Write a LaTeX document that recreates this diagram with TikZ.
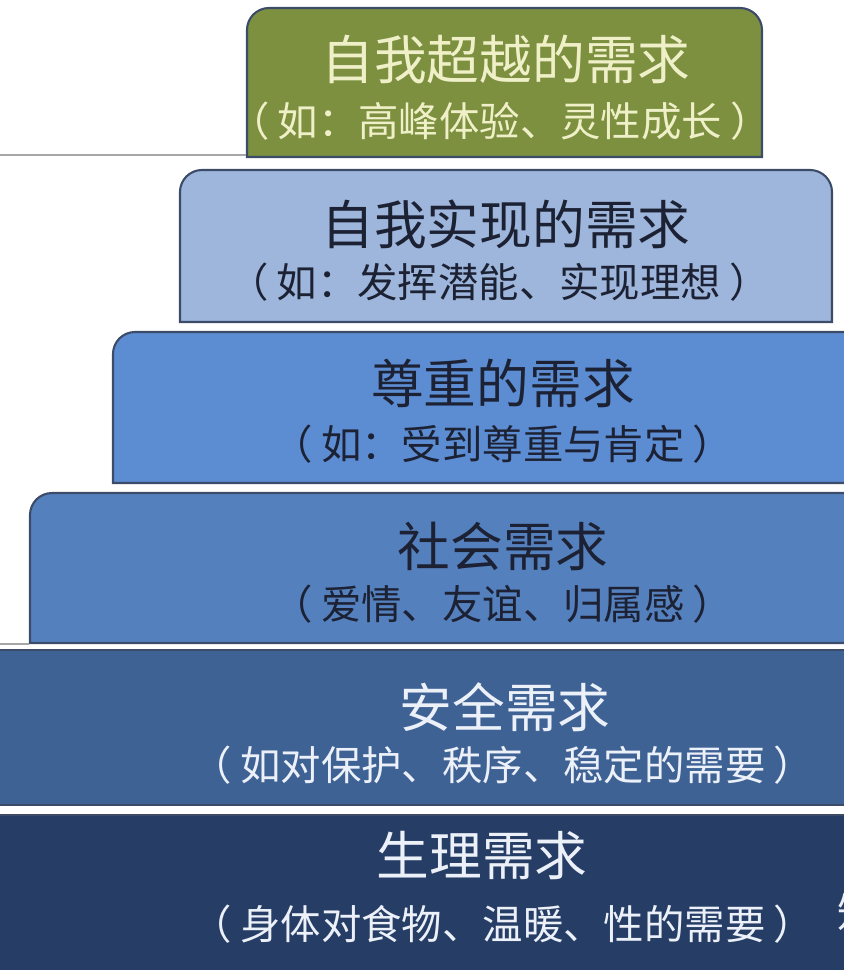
\documentclass[tikz,border=0pt]{standalone}
\usepackage{fontspec}
\setmainfont{Noto Sans CJK SC}
\usepackage{tikz}
\usetikzlibrary{positioning}
\definecolor{transc}{RGB}{124,144,64}
\definecolor{actual}{RGB}{158,182,220}
\definecolor{esteem}{RGB}{92,140,210}
\definecolor{social}{RGB}{85,128,190}
\definecolor{safety}{RGB}{62,98,148}
\definecolor{physio}{RGB}{38,61,101}
\definecolor{tierline}{RGB}{60,76,104}
\definecolor{darktext}{RGB}{28,34,52}
\definecolor{creamtext}{RGB}{240,240,200}
\definecolor{lighttext}{RGB}{236,240,248}
\newcommand{\lp}{（\hspace{0.2em}}
\newcommand{\rp}{\hspace{0.2em}）}
\tikzset{tier/.style={draw=tierline, line width=1.2pt},
title/.style={font=\fontsize{30}{36}\selectfont, inner sep=0pt},
sub/.style={font=\fontsize{23}{27}\selectfont, inner sep=0pt},
divider/.style={draw=gray!70, line width=1.5pt}}

\begin{document}
\begin{tikzpicture}[x=0.02cm, y=0.02cm]
  \useasboundingbox (0,0) rectangle (844,-970);
  % Stufen der Pyramide
  \draw[tier, fill=physio] (-5,-815) rectangle (850,-975);
  \draw[tier, fill=safety] (-5,-650) rectangle (850,-805);
  \draw[tier, fill=social] (30,-643) -- (30,-515) arc[start angle=180, end angle=90, radius=0.44cm] -- (850,-493) -- (850,-643) -- cycle;
  \draw[tier, fill=esteem] (113,-483) -- (113,-354) arc[start angle=180, end angle=90, radius=0.44cm] -- (850,-332) -- (850,-483) -- cycle;
  \draw[tier, fill=actual] (180,-322) -- (180,-192) arc[start angle=180, end angle=90, radius=0.44cm] -- (810,-170) arc[start angle=90, end angle=0, radius=0.44cm] -- (832,-322) -- cycle;
  \draw[tier, fill=transc] (247,-157) -- (247,-30) arc[start angle=180, end angle=90, radius=0.44cm] -- (740,-8) arc[start angle=90, end angle=0, radius=0.44cm] -- (762,-157) -- cycle;
  \draw[divider] (0,-155) -- (246,-155);
  \draw[divider] (0,-644) -- (29,-644);
  % Texte
  \node[title, text=creamtext] (transT) at (506,-59) {自我超越的需求};
  \node[sub, text=creamtext] (transS) at (500,-121) {\lp 如：高峰体验、灵性成长\rp};
  \node[title, text=darktext] (actualT) at (506,-224) {自我实现的需求};
  \node[sub, text=darktext] (actualS) at (499,-282) {\lp 如：发挥潜能、实现理想\rp};
  \node[title, text=darktext] (esteemT) at (503,-383) {尊重的需求};
  \node[sub, text=darktext] (esteemS) at (503,-444) {\lp 如：受到尊重与肯定\rp};
  \node[title, text=darktext] (socialT) at (503,-546) {社会需求};
  \node[sub, text=darktext] (socialS) at (503,-604) {\lp 爱情、友谊、归属感\rp};
  \node[title, text=lighttext] (safetyT) at (505,-707) {安全需求};
  \node[sub, text=lighttext] (safetyS) at (503,-765) {\lp 如对保护、秩序、稳定的需要\rp};
  \node[title, text=lighttext] (physioT) at (482,-856) {生理需求};
  \node[sub, text=lighttext] (physioS) at (503,-924) {\lp 身体对食物、温暖、性的需要\rp};
  \node[sub, text=lighttext] (mark) at (858,-912) {知};
\end{tikzpicture}
\end{document}
